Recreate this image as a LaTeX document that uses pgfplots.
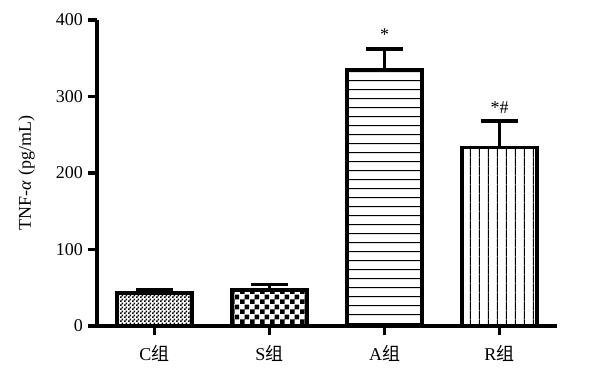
\documentclass[border=0pt]{standalone}
\usepackage{fontspec}
\setmainfont{Liberation Serif}
\newfontfamily\cjk{Noto Sans CJK SC}
\usepackage{pgfplots}
\pgfplotsset{compat=1.18}
\usetikzlibrary{patterns}
\pgfdeclarepatternformonly{finechecker}{\pgfpointorigin}{\pgfqpoint{3pt}{3pt}}{\pgfqpoint{3pt}{3pt}}{%
  \pgfpathrectangle{\pgfqpoint{0pt}{0pt}}{\pgfqpoint{1.5pt}{1.5pt}}%
  \pgfpathrectangle{\pgfqpoint{1.5pt}{1.5pt}}{\pgfqpoint{1.5pt}{1.5pt}}%
  \pgfusepath{fill}}
\pgfdeclarepatternformonly{coarsechecker}{\pgfpointorigin}{\pgfqpoint{7.5pt}{7.5pt}}{\pgfqpoint{7.5pt}{7.5pt}}{%
  \pgfpathrectangle{\pgfqpoint{0pt}{0pt}}{\pgfqpoint{3.75pt}{3.75pt}}%
  \pgfpathrectangle{\pgfqpoint{3.75pt}{3.75pt}}{\pgfqpoint{3.75pt}{3.75pt}}%
  \pgfusepath{fill}}
\pgfdeclarepatternformonly{hlinesw}{\pgfpointorigin}{\pgfqpoint{7pt}{7pt}}{\pgfqpoint{7pt}{7pt}}{%
  \pgfsetlinewidth{0.8pt}%
  \pgfpathmoveto{\pgfqpoint{0pt}{3.5pt}}\pgfpathlineto{\pgfqpoint{7pt}{3.5pt}}%
  \pgfusepath{stroke}}
\pgfdeclarepatternformonly{vlinesw}{\pgfpointorigin}{\pgfqpoint{7pt}{7pt}}{\pgfqpoint{7pt}{7pt}}{%
  \pgfsetlinewidth{0.8pt}%
  \pgfpathmoveto{\pgfqpoint{3.5pt}{0pt}}\pgfpathlineto{\pgfqpoint{3.5pt}{7pt}}%
  \pgfusepath{stroke}}
\begin{document}
\begin{tikzpicture}
\path[use as bounding box] (-72.75pt,-36pt) rectangle (370.5pt,244.5pt);
\begin{axis}[
  at={(0,0)}, anchor=south west,
  scale only axis,
  width=345pt, height=229.5pt,
  xmin=-0.5, xmax=3.5,
  ymin=0, ymax=400,
  axis lines=left,
  axis line style={line width=2.5pt, -},
  every tick/.style={black, line width=2.5pt},
  tick align=outside,
  major tick length=7pt,
  xtick={0,1,2,3},
  xticklabels={C{\cjk 组},S{\cjk 组},A{\cjk 组},R{\cjk 组}},
  ytick={0,100,200,300,400},
  /pgf/number format/assume math mode=true,
  tick label style={font=\fontsize{13.5}{15}\selectfont},
  xticklabel style={yshift=-4pt},
  ylabel={TNF-\textit{α} (pg/mL)},
  ylabel style={font=\fontsize{13.5}{15}\selectfont, at={(ticklabel cs:0.5)}, yshift=9pt},
  ybar, bar width=0.65, bar shift=0pt,
  every axis plot/.append style={draw=black, line width=2.5pt,
    error bars/y dir=plus, error bars/y explicit,
    error bars/error bar style={line width=2.5pt, black},
    error bars/error mark options={rotate=90, mark size=13.9pt, line width=2.5pt, black}},
  clip=false,
]
\addplot[pattern=finechecker, pattern color=black] coordinates {(0,43) +- (0,5)};
\addplot[pattern=coarsechecker, pattern color=black] coordinates {(1,47) +- (0,7)};
\addplot[pattern=hlinesw, pattern color=black] coordinates {(2,335) +- (0,27)};
\addplot[pattern=vlinesw, pattern color=black] coordinates {(3,233) +- (0,35)};
\node[font=\fontsize{13.5}{15}\selectfont] at (axis cs:2,381) {*};
\node[font=\fontsize{13.5}{15}\selectfont] at (axis cs:3,286) {*\#};
\end{axis}
\end{tikzpicture}
\end{document}
